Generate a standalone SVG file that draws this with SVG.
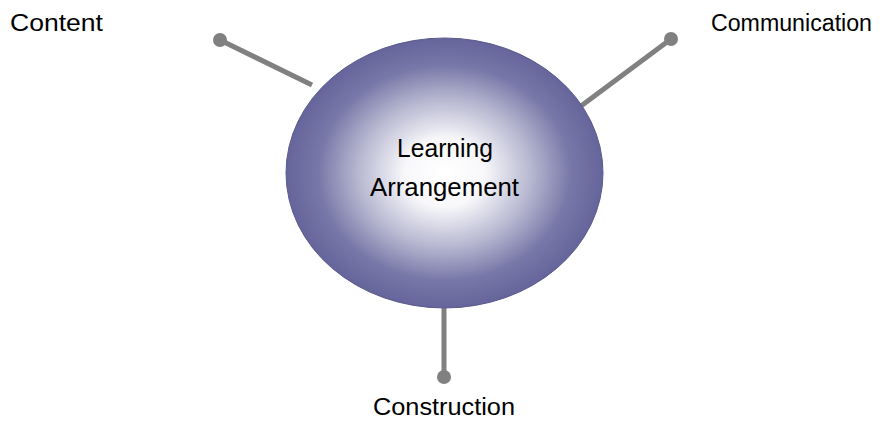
<svg xmlns="http://www.w3.org/2000/svg" width="889" height="423" viewBox="0 0 889 423">
<style>
.lbl{font-family:"Liberation Sans",Arial,sans-serif;font-size:23px;fill:#000}
.big{font-size:25px}
.conn line{stroke:#808080;stroke-width:5}
.conn circle{fill:#808080}
</style>
<defs>
<radialGradient id="g" cx="50%" cy="50%" r="50%">
<stop offset="0" stop-color="#ffffff"/>
<stop offset="0.25" stop-color="#f8f8fb"/>
<stop offset="0.55" stop-color="#b6b6d0"/>
<stop offset="0.8" stop-color="#7777a8"/>
<stop offset="1" stop-color="#65659c"/>
</radialGradient>
</defs>
<rect width="889" height="423" fill="#fff"/>
<g id="connectors" class="conn">
<line x1="220" y1="40" x2="312" y2="85"/>
<circle cx="220" cy="40" r="7"/>
<line x1="671" y1="39" x2="581" y2="106"/>
<circle cx="671" cy="39" r="7"/>
<line x1="444" y1="305" x2="444" y2="377"/>
<circle cx="444" cy="377" r="7"/>
</g>
<g id="center">
<ellipse cx="444.5" cy="173" rx="158.5" ry="135" fill="url(#g)" stroke="#5a5a8c" stroke-width="1"/>
<text class="lbl big" x="397" y="157" textLength="96" lengthAdjust="spacingAndGlyphs">Learning</text>
<text class="lbl big" x="370" y="196" textLength="149" lengthAdjust="spacingAndGlyphs">Arrangement</text>
</g>
<g id="content"><text class="lbl" x="10" y="31" textLength="93" lengthAdjust="spacingAndGlyphs">Content</text></g>
<g id="communication"><text class="lbl" x="711" y="31" textLength="161" lengthAdjust="spacingAndGlyphs">Communication</text></g>
<g id="construction"><text class="lbl" x="373" y="415" textLength="142" lengthAdjust="spacingAndGlyphs">Construction</text></g>
</svg>
